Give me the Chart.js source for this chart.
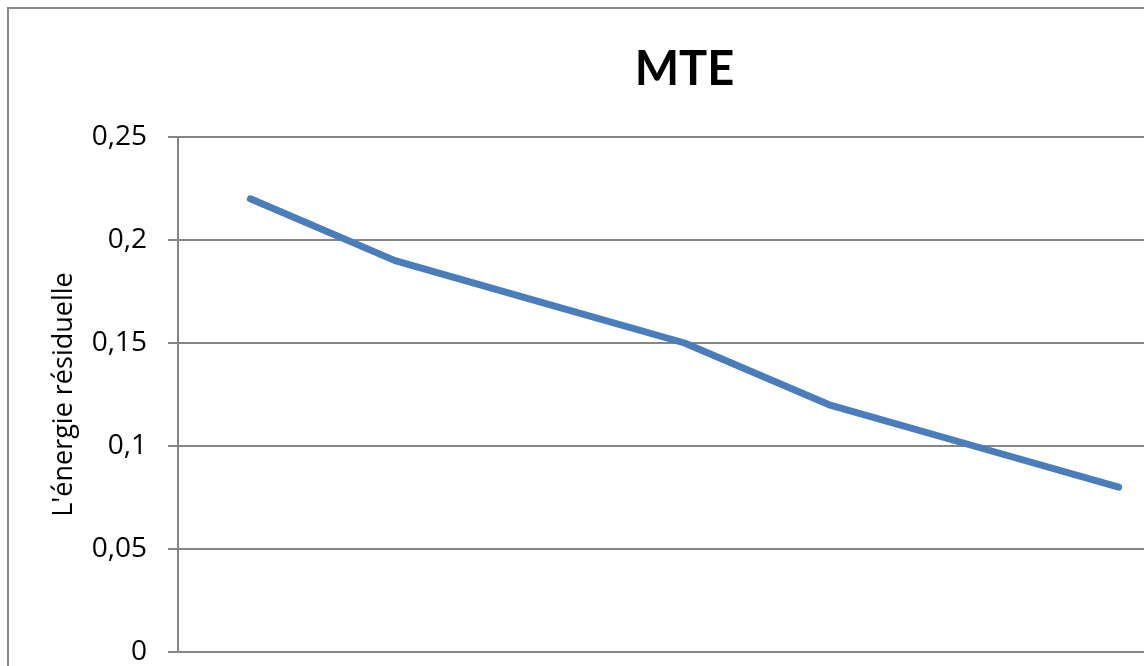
<!DOCTYPE html>
<html>
<head>
<meta charset="utf-8">
<script src="https://cdn.jsdelivr.net/npm/chart.js@4"></script>
<style>
  html, body { margin: 0; padding: 0; overflow: hidden; background: #fff; }
  #frame { position: absolute; left: 7px; top: 7px; width: 1300px; height: 800px; border: 2px solid #898989; box-sizing: border-box; }
  #c { position: absolute; left: 0; top: 0; }
</style>
</head>
<body>
<div id="frame"></div>
<canvas id="c" width="1200" height="692"></canvas>
<script>
  // Donnees
  const categories = ["1", "2", "3", "4", "5", "6", "7"];
  const energie = [0.22, 0.19, 0.17, 0.15, 0.12, 0.10, 0.08];
  const yTicks = [0, 0.05, 0.1, 0.15, 0.2, 0.25];

  const FONT = "'Open Sans', 'Noto Sans', sans-serif";
  const fmt = (v) => String(Math.round(v * 100) / 100).replace(".", ",");

  // Titre centre sur la zone de tracé
  const titrePlugin = {
    id: "titre",
    afterDraw(chart) {
      const { ctx, chartArea } = chart;
      ctx.save();
      ctx.fillStyle = "#000";
      ctx.font = "bold 47px Lato, sans-serif";
      ctx.textAlign = "center";
      ctx.textBaseline = "middle";
      ctx.fillText("MTE", (chartArea.left + chartArea.right) / 2, 70);
      ctx.restore();
    },
  };

  new Chart(document.getElementById("c").getContext("2d"), {
    type: "line",
    data: {
      labels: categories,
      datasets: [
        {
          label: "MTE",
          data: energie,
          borderColor: "#4A7EBB",
          borderWidth: 7,
          borderCapStyle: "round",
          borderJoinStyle: "round",
          pointRadius: 0,
          tension: 0,
          fill: false,
        },
      ],
    },
    options: {
      responsive: false,
      animation: false,
      layout: { padding: { top: 137, right: 9, bottom: 0, left: 0 } },
      plugins: {
        legend: { display: false },
        tooltip: { enabled: false },
      },
      scales: {
        x: {
          offset: true,
          grid: { display: false, offset: true },
          border: { display: true, color: "#868686", width: 2 },
          ticks: { display: false },
          afterFit: (s) => { s.height = 40; },
        },
        y: {
          min: 0,
          max: 0.25,
          afterBuildTicks: (s) => { s.ticks = yTicks.map((v) => ({ value: v })); },
          afterFit: (s) => { s.width = 178; },
          grid: { color: "#868686", lineWidth: 2, tickLength: 10, drawTicks: true },
          border: { display: true, color: "#868686", width: 2 },
          ticks: {
            padding: 21,
            color: "#000",
            font: { family: FONT, size: 28 },
            callback: (v) => fmt(v),
          },
          title: {
            display: true,
            text: "L'énergie résiduelle",
            color: "#000",
            font: { family: FONT, size: 27 },
            padding: { top: 48, bottom: 0 },
          },
        },
      },
    },
    plugins: [titrePlugin],
  });
</script>
</body>
</html>
